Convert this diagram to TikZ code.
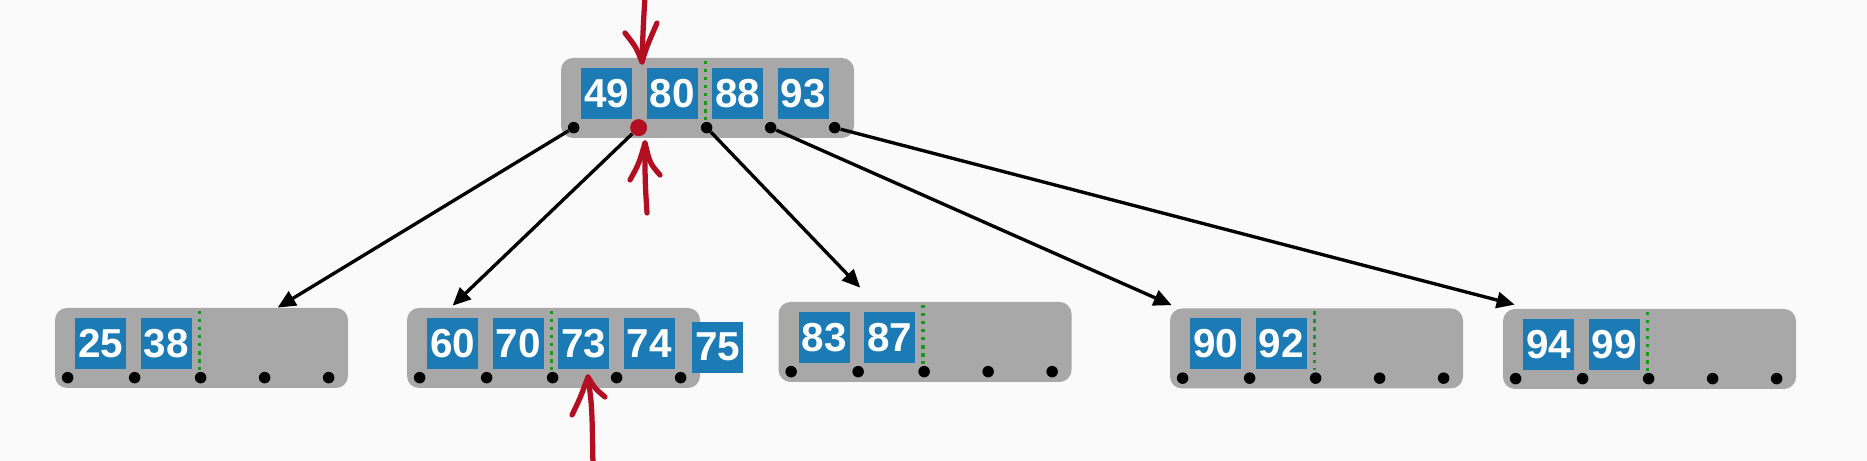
\documentclass[tikz,border=0pt]{standalone}
\usepackage{fontspec}
\setmainfont{Liberation Sans}
\usetikzlibrary{arrows.meta,positioning}
\definecolor{keyblue}{RGB}{28,122,180}
\definecolor{boxgray}{RGB}{168,168,168}
\definecolor{penred}{RGB}{178,16,34}
\definecolor{sepgreen}{RGB}{30,150,30}
\definecolor{paper}{RGB}{250,250,250}
\begin{document}
\begin{tikzpicture}[font=\fontsize{23}{26}\selectfont\bfseries,
	bnode/.style={fill=boxgray, rounded corners=0.24cm, minimum width=5.86cm, minimum height=1.6cm, inner sep=0pt},
	keybox/.style={fill=keyblue, text=white, minimum size=1.02cm, inner sep=0pt},
	ptrdot/.style={circle, fill=black, minimum size=0.23cm, inner sep=0pt},
	redptr/.style={circle, fill=penred, minimum size=0.34cm, inner sep=0pt},
	splitline/.style={sepgreen, line width=2pt, dash pattern=on 2pt off 2.6pt},
	childlink/.style={line width=1.9pt, -{Triangle[length=0.36cm,width=0.32cm]}},
	redpen/.style={penred, line width=3pt, line cap=round, line join=round}]
	\fill[paper] (0,0) rectangle (37.34,9.22);
	\useasboundingbox (0,0) rectangle (37.34,9.22);
	% nodes
	\node[bnode] (root) at (14.15,7.26) {};
	\node[bnode] (c1) at (4.03,2.26) {};
	\node[bnode] (c2) at (11.07,2.26) {};
	\node[bnode] (c3) at (18.50,2.38) {};
	\node[bnode] (c4) at (26.33,2.25) {};
	\node[bnode] (c5) at (32.99,2.24) {};
	\foreach \b in {root,c1,c2,c3,c4,c5}
		\draw[splitline] ([xshift=2.9cm,yshift=-0.06cm]\b.north west) -- ++(0,-1.18);
	% keys
	\foreach \b/\i/\k in {root/1/49, root/2/80, root/3/88, root/4/93, c1/1/25, c1/2/38,
		c2/1/60, c2/2/70, c2/3/73, c2/4/74, c3/1/83, c3/2/87, c4/1/90, c4/2/92, c5/1/94, c5/2/99}
		\node[keybox] (\b-k\i) at ([xshift={(0.92+(\i-1)*1.31)*1cm},yshift=-0.71cm]\b.north west) {\k};
	\node[keybox] (c2-k5) at ([xshift=6.22cm,yshift=-0.79cm]c2.north west) {75};
	% pointers
	\foreach \b in {root,c1,c2,c3,c4,c5}
		\foreach \dx [count=\i] in {0.26,1.60,2.92,4.20,5.48}
			\node[ptrdot] (\b-p\i) at ([xshift=\dx cm,yshift=-1.40cm]\b.north west) {};
	\node[redptr] (hit) at ([xshift=-0.04cm]root-p2) {};
	\draw[childlink] (root-p1) -- ([xshift=4.46cm]c1.north west);
	\draw[childlink] (hit) -- ([xshift=0.92cm,yshift=0.04cm]c2.north west);
	\draw[childlink] (root-p3) -- ([xshift=1.64cm,yshift=0.28cm]c3.north west);
	\draw[childlink] (root-p4) -- ([xshift=0.04cm,yshift=0.06cm]c4.north west);
	\draw[childlink] (root-p5) -- ([xshift=0.24cm,yshift=0.08cm]c5.north west);
	% red marks
	\coordinate (m1) at (12.84,7.98);
	\draw[redpen] (12.90,9.3) .. controls (12.86,8.6) .. (m1);
	\draw[redpen] (12.50,8.56) .. controls (12.72,8.28) .. (m1) .. controls (12.94,8.30) .. (13.14,8.76);
	\coordinate (m2) at (12.90,6.36);
	\draw[redpen] (12.94,4.96) .. controls (12.90,5.6) .. (m2);
	\draw[redpen] (12.60,5.62) .. controls (12.78,5.95) .. (m2) .. controls (13.00,5.95) .. (13.20,5.72);
	\coordinate (m3) at (11.76,1.68);
	\draw[redpen] (11.86,-0.1) .. controls (11.84,1.1) .. (m3);
	\draw[redpen] (11.44,0.92) .. controls (11.60,1.25) .. (m3) .. controls (11.90,1.45) .. (12.10,1.28);
\end{tikzpicture}
\end{document}
